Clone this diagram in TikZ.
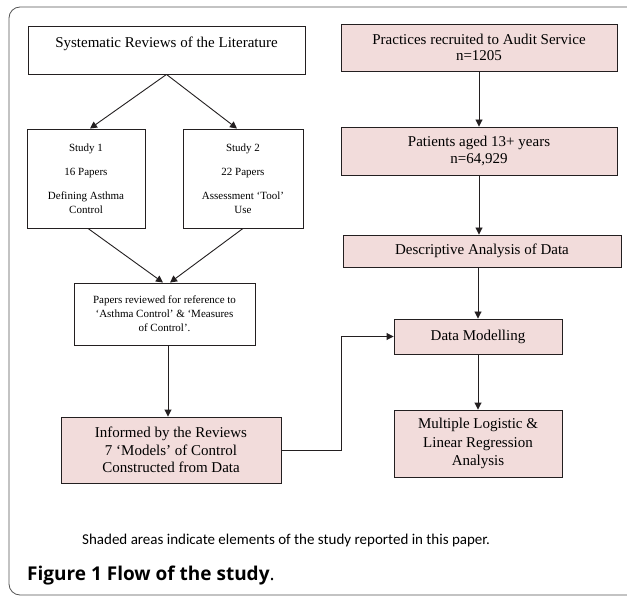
\documentclass[tikz,border=0pt]{standalone}
\usepackage{fontspec}
\setmainfont{Liberation Serif}
\newfontfamily\notefont{Carlito}
\newfontfamily\capfont{Open Sans}
\usetikzlibrary{arrows.meta,positioning,calc}
\definecolor{fsInk}{HTML}{231F20}
\definecolor{fsPink}{HTML}{F2DCDB}
\definecolor{fsFrame}{HTML}{555555}
\tikzset{
  box/.style      ={draw=fsInk,line width=0.9pt,align=center,inner sep=2pt,
                    fill=white},
  shaded/.style   ={box,fill=fsPink},
  flow/.style     ={-{Triangle[length=7pt,width=7pt]},fsInk,line width=0.9pt},
  bigtxt/.style   ={font=\fontsize{15}{16.5}\selectfont},
  midtxt/.style   ={font=\fontsize{11}{14}\selectfont},
}

\begin{document}
\begin{tikzpicture}[x=1pt,y=-1pt]
\clip (0,0) rectangle (627,596);
\fill[white] (0,0) rectangle (627,596);
\draw[fsFrame,line width=0.8pt,rounded corners=11pt] (9,7) rectangle (660,595);

%% left column: literature reviews
\node[box,bigtxt,minimum width=277pt,minimum height=48pt] (sysrev) at (166.5,50)
  {Systematic Reviews of the Literature\\\mbox{}};
\node[box,midtxt,minimum width=118pt,minimum height=99pt] (study1) at (86,178.5)
  {Study 1\\[10pt]16 Papers\\[10pt]Defining Asthma\\Control};
\node[box,midtxt,minimum width=120pt,minimum height=99pt] (study2) at (243,178.5)
  {Study 2\\[10pt]22 Papers\\[10pt]Assessment `Tool'\\Use};
\node[box,midtxt,minimum width=181pt,minimum height=62pt] (papers) at (164.5,314)
  {Papers reviewed for reference to\\`Asthma Control' \& `Measures\\of Control'.};
\node[shaded,font=\fontsize{15}{17.5}\selectfont,minimum width=220pt,minimum height=66pt]
  (informed) at (171,450)
  {Informed by the Reviews\\7 `Models' of Control\\Constructed from Data};

%% right column: audit data
\node[shaded,bigtxt,minimum width=276pt,minimum height=47pt] (practices) at (479,47.5)
  {Practices recruited to Audit Service\\n=1205};
\node[shaded,bigtxt,minimum width=276pt,minimum height=48pt] (patients) at (479,151)
  {Patients aged 13+ years\\n=64,929};
\node[shaded,bigtxt,minimum width=278pt,minimum height=32pt] (descr) at (482,251)
  {Descriptive Analysis of Data};
\node[shaded,bigtxt,minimum width=168pt,minimum height=35pt] (model) at (478,336.5)
  {Data Modelling};
\node[shaded,font=\fontsize{15}{18.3}\selectfont,minimum width=168pt,minimum height=67pt]
  (regress) at (478,443.5)
  {Multiple Logistic \&\\Linear Regression\\Analysis};

\draw[flow] (sysrev.south) -- ($(study1.north)+(4,0)$);
\draw[flow] (sysrev.south) -- ($(study2.north)+(-6,0)$);
\draw[flow] ($(study1.south)+(2,0)$) -- ($(papers.north)+(-1.5,0)$);
\draw[flow] (study2.south) -- ($(papers.north)+(5.5,0)$);
\draw[flow] ($(papers.south)+(3.5,0)$) -- ($(informed.north)+(-3,0)$);

\draw[flow] (practices.south) -- (patients.north);
\draw[flow] (patients.south) -- (patients.south |- descr.north);
\draw[flow] (descr.south -| model.north) -- (model.north);
\draw[flow] (model.south) -- (regress.north);
\draw[flow] (informed.east) -- ++(60,0) |- (model.west);

\node[font=\notefont\fontsize{15}{17}\selectfont,anchor=base west,inner sep=0pt]
  (note) at (82,544)
  {Shaded areas indicate elements of the study reported in this paper.};
\node[font=\capfont\fontsize{19}{22}\selectfont,anchor=base west,inner sep=0pt]
  (caption) at (27,580) {\textbf{Figure 1 Flow of the study}.};
\end{tikzpicture}
\end{document}
